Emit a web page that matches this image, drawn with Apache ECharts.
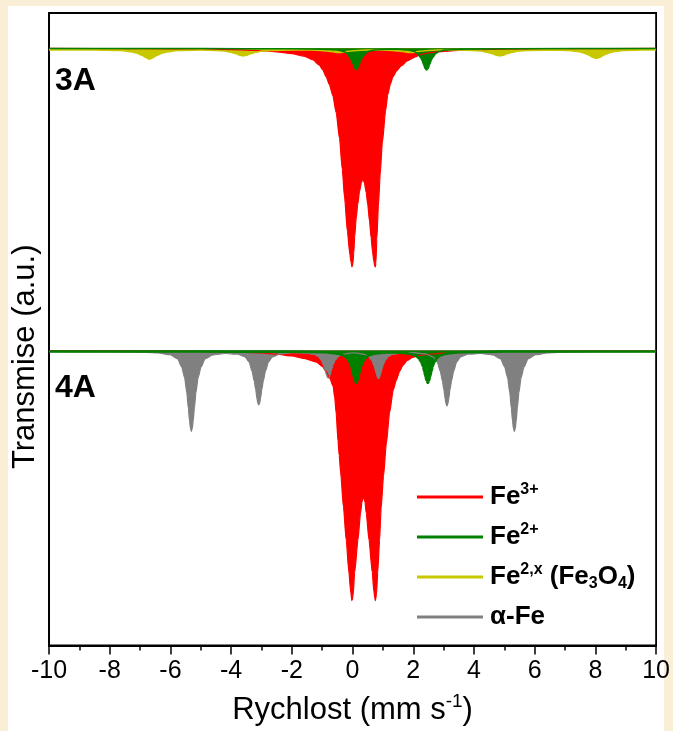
<!DOCTYPE html>
<html>
<head>
<meta charset="utf-8">
<script src="https://cdn.jsdelivr.net/npm/echarts@6/dist/echarts.min.js"></script>
<style>
html,body{margin:0;padding:0;background:#FAEFD6;}
#c{width:673px;height:731px;}
</style>
</head>
<body>
<div id="c"></div>
<script>
// ---------------- data (velocity in mm/s, absorption depth in a.u.) ----------------
const xTicks = [-10, -8, -6, -4, -2, 0, 2, 4, 6, 8, 10];
const baseline3A = 603.5;
const baseline4A = 298;

// 3A : Fe3+ doublet
const vRed3A = [-10, -7, -5, -4, -3, -2.5, -2, -1.6, -1.3, -1.1, -0.98, -0.87, -0.76, -0.65, -0.54, -0.43, -0.34, -0.26, -0.17, -0.09, -0.05, -0.02, 0.01, 0.04, 0.07, 0.12, 0.17, 0.23, 0.29, 0.34, 0.39, 0.45, 0.5, 0.56, 0.61, 0.66, 0.7, 0.73, 0.75, 0.77, 0.8, 0.85, 0.91, 0.98, 1.09, 1.16, 1.25, 1.33, 1.45, 1.6, 1.8, 2.05, 2.3, 2.6, 3.0, 3.5, 4.0, 5, 7, 10];
const dRed3A = [0.3, 0.5, 0.9, 1.5, 2.5, 3.7, 5.5, 8, 12, 17, 22, 29, 37, 48, 65, 91, 122, 152, 185, 208, 216, 221, 218, 207, 191, 172, 158, 145, 136, 132, 136, 146, 158, 175, 191, 206, 215, 220, 221, 217, 193, 160, 128, 96, 63, 47, 36, 29, 23, 18, 13, 9, 6, 4.3, 3.2, 2.3, 1.7, 1, 0.5, 0.3];

// 3A : Fe2+ doublet
const vGreen3A = [-10, -5, -2, -1, -0.5, -0.28, -0.18, -0.08, -0.03, 0.02, 0.07, 0.12, 0.17, 0.22, 0.27, 0.32, 0.42, 0.52, 0.72, 1.1, 1.5, 1.84, 2.04, 2.14, 2.24, 2.29, 2.34, 2.39, 2.44, 2.49, 2.54, 2.59, 2.64, 2.74, 2.84, 3.04, 3.5, 5, 10];
const dGreen3A = [0.3, 0.4, 0.6, 1.0, 1.8, 3.5, 5.5, 9.5, 12.5, 16, 20, 21.5, 20, 16, 12.5, 9.5, 5.5, 3.5, 1.9, 1.1, 1.2, 2.0, 3.5, 5.5, 9.5, 12.5, 16.5, 20.5, 22, 20.5, 16.5, 12.5, 9.5, 5.5, 3.5, 2.0, 1.0, 0.5, 0.3];

// 3A : Fe2,x (Fe3O4) sextet
const vYellow3A = [-10, -8.5, -7.6, -7.29, -7.09, -6.94, -6.81, -6.69, -6.57, -6.44, -6.29, -6.09, -5.79, -5.0, -4.5, -4.2, -4.0, -3.85, -3.72, -3.6, -3.48, -3.35, -3.2, -3.0, -2.7, -2.0, -1.35, -1.05, -0.85, -0.7, -0.57, -0.45, -0.33, -0.2, -0.05, 0.15, 0.45, 1.0, 1.3, 1.5, 1.65, 1.78, 1.9, 2.02, 2.15, 2.3, 2.5, 2.8, 3.5, 3.95, 4.25, 4.45, 4.6, 4.73, 4.85, 4.97, 5.1, 5.25, 5.45, 5.75, 6.5, 7.13, 7.43, 7.63, 7.78, 7.91, 8.03, 8.15, 8.28, 8.43, 8.63, 8.93, 9.5, 10];
const dYellow3A = [1.8, 1.9, 2.5, 3.6, 5.2, 7.2, 9.45, 11, 9.45, 7.2, 5.2, 3.6, 2.5, 2.0, 2.3, 3.0, 4.2, 5.5, 7.1, 8, 7.1, 5.5, 4.2, 3.0, 2.3, 2.0, 2.0, 2.3, 2.8, 3.4, 4.1, 4.5, 4.1, 3.4, 2.8, 2.3, 2.0, 2.0, 2.3, 2.8, 3.4, 4.1, 4.5, 4.1, 3.4, 2.8, 2.3, 2.0, 2.0, 2.3, 3.0, 4.2, 5.5, 7.1, 8, 7.1, 5.5, 4.2, 3.0, 2.3, 2.0, 2.5, 3.5, 5.1, 7.0, 9.2, 10.5, 9.2, 7.0, 5.1, 3.5, 2.5, 2.0, 1.8];

// 4A : Fe3+ doublet
const vRed4A = [-10, -7, -5, -4, -3, -2.5, -2, -1.6, -1.2, -1.0, -0.87, -0.75, -0.64, -0.59, -0.54, -0.48, -0.44, -0.39, -0.30, -0.21, -0.12, -0.06, -0.02, 0.02, 0.07, 0.18, 0.26, 0.31, 0.36, 0.41, 0.45, 0.54, 0.65, 0.70, 0.75, 0.79, 0.83, 0.89, 0.94, 1.02, 1.11, 1.22, 1.34, 1.44, 1.55, 1.66, 1.8, 1.98, 2.2, 2.6, 3, 4, 5, 7, 10];
const dRed4A = [0.3, 0.5, 0.9, 1.4, 2.4, 3.7, 5.5, 8, 11.5, 16, 21, 28, 36, 47, 63, 91, 106, 124, 158, 191, 224, 244, 252.7, 247, 224, 191, 165, 153, 147, 153, 164, 191, 224, 243, 252.7, 246, 224, 192, 160, 127, 95, 63, 40, 30, 21, 15, 10, 7, 5, 3.5, 2.6, 1.6, 1, 0.5, 0.3];

// 4A : Fe2+ doublet
const vGreen4A = [-10, -5, -2, -0.88, -0.48, -0.28, -0.18, -0.1, -0.04, 0, 0.04, 0.08, 0.12, 0.16, 0.2, 0.24, 0.28, 0.34, 0.42, 0.52, 0.72, 1.12, 1.3, 1.48, 1.88, 2.08, 2.18, 2.26, 2.32, 2.36, 2.40, 2.44, 2.48, 2.52, 2.56, 2.60, 2.64, 2.70, 2.78, 2.88, 3.08, 3.48, 5, 10];
const dGreen4A = [1.0, 1.1, 1.3, 1.8, 3.2, 5.2, 7.8, 11.5, 16.2, 21, 26, 30.6, 32.7, 30.6, 26, 21, 16.2, 11.5, 7.8, 5.2, 3.2, 2.0, 1.9, 2.0, 3.2, 5.2, 7.8, 11.5, 16.2, 21, 26, 30.6, 32.7, 30.6, 26, 21, 16.2, 11.5, 7.8, 5.2, 3.2, 1.8, 1.1, 1.0];

// 4A : alpha-Fe sextet
const vGray4A = [-10, -8, -6.8, -6.41, -6.01, -5.76, -5.63, -5.53, -5.46, -5.41, -5.37, -5.34, -5.31, -5.28, -5.25, -5.21, -5.16, -5.09, -4.99, -4.86, -4.61, -4.2, -3.79, -3.54, -3.41, -3.31, -3.24, -3.19, -3.15, -3.12, -3.09, -3.06, -3.03, -2.99, -2.94, -2.87, -2.77, -2.64, -2.39, -1.99, -1.5, -1.25, -1.12, -1.02, -0.95, -0.90, -0.86, -0.83, -0.80, -0.77, -0.74, -0.70, -0.65, -0.58, -0.48, -0.35, -0.1, 0.03, 0.155, 0.405, 0.535, 0.635, 0.705, 0.755, 0.795, 0.825, 0.855, 0.885, 0.915, 0.955, 1.005, 1.075, 1.175, 1.305, 1.555, 2.01, 2.41, 2.66, 2.79, 2.89, 2.96, 3.01, 3.05, 3.08, 3.11, 3.14, 3.17, 3.21, 3.26, 3.33, 3.43, 3.56, 3.81, 4.22, 4.63, 4.88, 5.01, 5.11, 5.18, 5.23, 5.27, 5.30, 5.33, 5.36, 5.39, 5.43, 5.48, 5.55, 5.65, 5.78, 6.03, 6.43, 6.8, 8, 10];
const dGray4A = [1.2, 1.3, 1.8, 2.4, 4.2, 8.5, 16.5, 27.8, 42.7, 58, 71.2, 78.8, 81.7, 78.8, 71.2, 58, 42.7, 27.8, 16.5, 8.5, 4.5, 3.0, 3.6, 6.5, 11.5, 21, 31, 39.3, 48.2, 53.3, 55, 53.3, 48.2, 39.3, 31, 21, 11.5, 6.5, 3.4, 2.2, 2.6, 4.0, 6.3, 10.1, 15.1, 20.3, 24.7, 27, 28, 27, 24.7, 20.3, 15.1, 10.1, 6.3, 4.0, 2.6, 2.4, 2.6, 4.0, 6.3, 10.1, 15.1, 20.3, 24.7, 27.3, 28.3, 27.3, 24.7, 20.3, 15.1, 10.1, 6.3, 4.0, 2.6, 2.2, 3.4, 6.5, 11.5, 21, 31, 39.5, 48.5, 54, 56, 54, 48.5, 39.5, 31, 21, 11.5, 6.5, 3.6, 3.0, 4.5, 8.5, 16.5, 27.8, 42.7, 58, 71.2, 78.8, 81.7, 78.8, 71.2, 58, 42.7, 27.8, 16.5, 8.5, 4.2, 2.4, 1.8, 1.3, 1.2];

const legendNames = ['Fe3+', 'Fe2+', 'Fe2,x (Fe3O4)', 'α-Fe'];
const colors = { 'Fe3+': '#FF0000', 'Fe2+': '#008000', 'Fe2,x (Fe3O4)': '#C8C800', 'α-Fe': '#808080' };

// ---------------- chart ----------------
const FONT = '"Liberation Sans", Arial, Helvetica, sans-serif';
function pairs(V, D, base) { return V.map((v, i) => [v, base - D[i]]); }
function spec(name, V, D, base, lw) {
  return {
    type: 'line', name: name, data: pairs(V, D, base),
    showSymbol: false, symbol: 'none', smooth: 0.2, smoothMonotone: 'x',
    itemStyle: { color: colors[name] },
    lineStyle: { color: colors[name], width: lw },
    areaStyle: { color: colors[name], opacity: 1, origin: base },
    emphasis: { disabled: true }, silent: true, animation: false
  };
}
const legendRich = {
  'Fe3+': '{b|Fe}{sup|3+}',
  'Fe2+': '{b|Fe}{sup|2+}',
  'Fe2,x (Fe3O4)': '{b|Fe}{sup|2,x}{b| (Fe}{sub|3}{b|O}{sub|4}{b|)}',
  'α-Fe': '{b|α-Fe}'
};

const chart = echarts.init(document.getElementById('c'), null, { renderer: 'canvas' });
chart.setOption({
  animation: false,
  backgroundColor: '#FAEFD6',
  textStyle: { fontFamily: FONT },
  graphic: [
    { type: 'rect', z: -100, zlevel: 0, shape: { x: 8, y: 6, width: 656, height: 725 }, style: { fill: '#FFFFFF' }, silent: true },
    { type: 'text', left: 55, top: 65, z: 100, style: { text: '3A', font: 'bold 32px ' + FONT, fill: '#000' } },
    { type: 'text', left: 55, top: 372, z: 100, style: { text: '4A', font: 'bold 32px ' + FONT, fill: '#000' } }
  ],
  grid: { left: 49, right: 16, top: 13, bottom: 79, show: true, borderColor: '#000', borderWidth: 1.8, backgroundColor: '#FFFFFF', containLabel: false },
  legend: {
    data: legendNames, orient: 'vertical', left: 412, top: 477,
    icon: 'rect', itemWidth: 66, itemHeight: 3, itemGap: 12, selectedMode: false,
    formatter: n => legendRich[n],
    textStyle: {
      color: '#000', fontFamily: FONT, padding: [0, 0, 0, 2],
      rich: {
        b: { fontSize: 26, fontWeight: 'bold', fontFamily: FONT, color: '#000', lineHeight: 30 },
        sup: { fontSize: 16, fontWeight: 'bold', fontFamily: FONT, color: '#000', lineHeight: 20, verticalAlign: 'top' },
        sub: { fontSize: 16, fontWeight: 'bold', fontFamily: FONT, color: '#000', lineHeight: 14, verticalAlign: 'bottom' }
      }
    }
  },
  xAxis: {
    type: 'value', min: -10, max: 10, interval: 2,
    name: '{a|Rychlost (mm s}{s|-1}{a|)}', nameLocation: 'middle', nameGap: 47,
    nameTextStyle: { rich: { a: { fontSize: 31, fontFamily: FONT, color: '#000', lineHeight: 36 }, s: { fontSize: 19, fontFamily: FONT, color: '#000', verticalAlign: 'top', lineHeight: 22 } } },
    axisLine: { show: true, onZero: false, lineStyle: { color: '#000', width: 1.8 } },
    axisTick: { show: true, inside: false, length: 9, lineStyle: { color: '#000', width: 1.5 } },
    minorTick: { show: true, splitNumber: 2, length: 5, lineStyle: { color: '#000', width: 1.5 } },
    splitLine: { show: false },
    axisLabel: { fontSize: 25, color: '#000', fontFamily: FONT, margin: 13, formatter: v => (xTicks.indexOf(v) >= 0 ? String(v) : '') }
  },
  yAxis: {
    type: 'value', min: 0, max: 639,
    name: 'Transmise (a.u.)', nameLocation: 'middle', nameGap: 8,
    nameTextStyle: { fontSize: 31, color: '#000', fontFamily: FONT, padding: [0, 55, 0, 0] },
    axisLine: { show: true, onZero: false, lineStyle: { color: '#000', width: 1.8 } },
    axisTick: { show: false }, axisLabel: { show: false }, splitLine: { show: false }
  },
  series: [
    spec('Fe3+', vRed3A, dRed3A, baseline3A, 1.2),
    spec('Fe3+', vRed4A, dRed4A, baseline4A, 1.2),
    spec('α-Fe', vGray4A, dGray4A, baseline4A, 1.2),
    spec('Fe2,x (Fe3O4)', vYellow3A, dYellow3A, baseline3A, 1.5),
    spec('Fe2+', vGreen3A, dGreen3A, baseline3A, 1.5),
    spec('Fe2+', vGreen4A, dGreen4A, baseline4A, 2.5)
  ]
});
</script>
</body>
</html>
